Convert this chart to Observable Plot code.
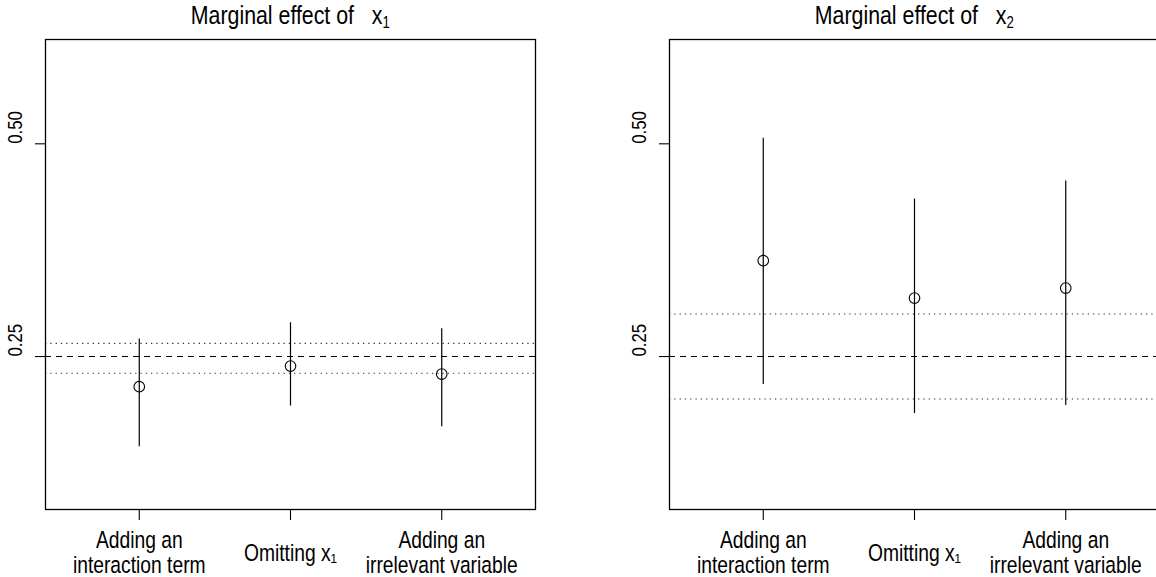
<!DOCTYPE html>
<html><head><meta charset="utf-8">
<script src="https://cdn.jsdelivr.net/npm/d3@7"></script>
<script src="https://cdn.jsdelivr.net/npm/@observablehq/plot@0.6"></script>
<style>
html,body{margin:0;padding:0;background:#fff;overflow:hidden;}
#wrap{position:relative;width:1156px;height:577px;overflow:hidden;font-family:"Liberation Sans",Arial,sans-serif;background:#fff;}
.panel{position:absolute;top:0;}
.title{position:absolute;top:2px;width:400px;text-align:center;font-size:26px;line-height:26px;color:#000;white-space:pre;}
.title span.t{display:inline-block;transform:scaleX(0.82);transform-origin:50% 50%;}
.title sub{font-size:0.62em;vertical-align:-4px;line-height:0;}
</style></head><body><div id="wrap"></div>
<script>
// categories (positions 1..3 on the x axis)
const methods = ["Adding an\ninteraction term", "Omitting x\u2081", "Adding an\nirrelevant variable"];
const methodPos = [1, 2, 3];

// Panel 1: marginal effect of x1
const x1Estimate = [0.2145, 0.2388, 0.2294];
const x1Lower    = [0.1440, 0.1918, 0.1675];
const x1Upper    = [0.2706, 0.2897, 0.2827];
const x1Band     = [0.2303, 0.2655];

// Panel 2: marginal effect of x2
const x2Estimate = [0.3626, 0.3187, 0.3305];
const x2Lower    = [0.2171, 0.1830, 0.1924];
const x2Upper    = [0.5064, 0.4351, 0.4562];
const x2Band     = [0.20, 0.30];

const trueEffect = [0.25];
const yTicks = [0.25, 0.50];
const yTickLabels = ["0.25", "0.50"];
const xDomain = [0.38, 3.62];
const yDomain = [0.0702, 0.6226];

const FONT = '"Liberation Sans", Arial, sans-serif';
const CONDENSE = 0.82;

function panel(est, lo, hi, band, width, marginLeft, marginRight) {
  const rows = methods.map((m, i) => ({m, pos: methodPos[i], est: est[i], lo: lo[i], hi: hi[i]}));
  const ticks = yTicks.map((v, i) => ({v, t: yTickLabels[i]}));
  // one record per label line
  const lines = methods.flatMap((m, i) => {
    const parts = m.split("\n");
    return parts.map((text, j) => ({pos: methodPos[i], text, row: parts.length === 1 ? "single" : (j === 0 ? "first" : "second")}));
  });
  const labelStyle = {x: "pos", text: "text", frameAnchor: "bottom", lineAnchor: "bottom", fontSize: 23.5, fill: "black"};
  const svg = Plot.plot({
    width, height: 577, marginLeft, marginRight, marginTop: 39, marginBottom: 68,
    style: {fontFamily: FONT, background: "white", color: "black", overflow: "visible"},
    x: {domain: xDomain, label: null},
    y: {domain: yDomain, label: null},
    marks: [
      Plot.ruleY(trueEffect, {stroke: "black", strokeWidth: 1.1, strokeDasharray: "6,5"}),
      Plot.ruleY(band, {stroke: "#333", strokeWidth: 1.1, strokeDasharray: "1.3,4"}),
      Plot.ruleX(rows, {x: "pos", y1: "lo", y2: "hi", stroke: "black", strokeWidth: 1.2}),
      Plot.dot(rows, {x: "pos", y: "est", r: 5.3, stroke: "black", fill: "none", strokeWidth: 1.1}),
      Plot.axisX(methodPos, {tickSize: 11, tickFormat: () => "", strokeWidth: 1.1}),
      Plot.axisY(yTicks, {tickSize: 10, tickFormat: () => "", strokeWidth: 1.1}),
      Plot.text(ticks, {y: "v", text: "t", frameAnchor: "left", dx: -30, rotate: -90, fontSize: 20.5, fill: "black"}),
      Plot.text(lines, {...labelStyle, filter: d => d.row === "first", dy: 38}),
      Plot.text(lines, {...labelStyle, filter: d => d.row === "second", dy: 63}),
      Plot.text(lines, {...labelStyle, filter: d => d.row === "single", dy: 51}),
      Plot.frame({stroke: "black", strokeWidth: 1.3})
    ]
  });
  // condensed (Helvetica-narrow-like) lettering: squeeze each text along its own direction
  svg.querySelectorAll("text").forEach(t => {
    const tr = t.getAttribute("transform");
    if (tr) t.setAttribute("transform", tr + ` scale(${CONDENSE},1)`);
  });
  return svg;
}

const wrap = document.getElementById("wrap");
const p1 = panel(x1Estimate, x1Lower, x1Upper, x1Band, 578, 45, 43);
p1.classList.add("panel"); p1.style.left = "0px";
wrap.appendChild(p1);
const p2 = panel(x2Estimate, x2Lower, x2Upper, x2Band, 581, 91, 0);
p2.classList.add("panel"); p2.style.left = "578px";
wrap.appendChild(p2);

function addTitle(sub, center) {
  const d = document.createElement("div");
  d.className = "title";
  d.style.left = (center - 200) + "px";
  d.innerHTML = '<span class="t">Marginal effect of&nbsp;&nbsp;&nbsp;x<sub>' + sub + '</sub></span>';
  wrap.appendChild(d);
}
addTitle("1", 290);
addTitle("2", 914);
</script>
</body></html>
